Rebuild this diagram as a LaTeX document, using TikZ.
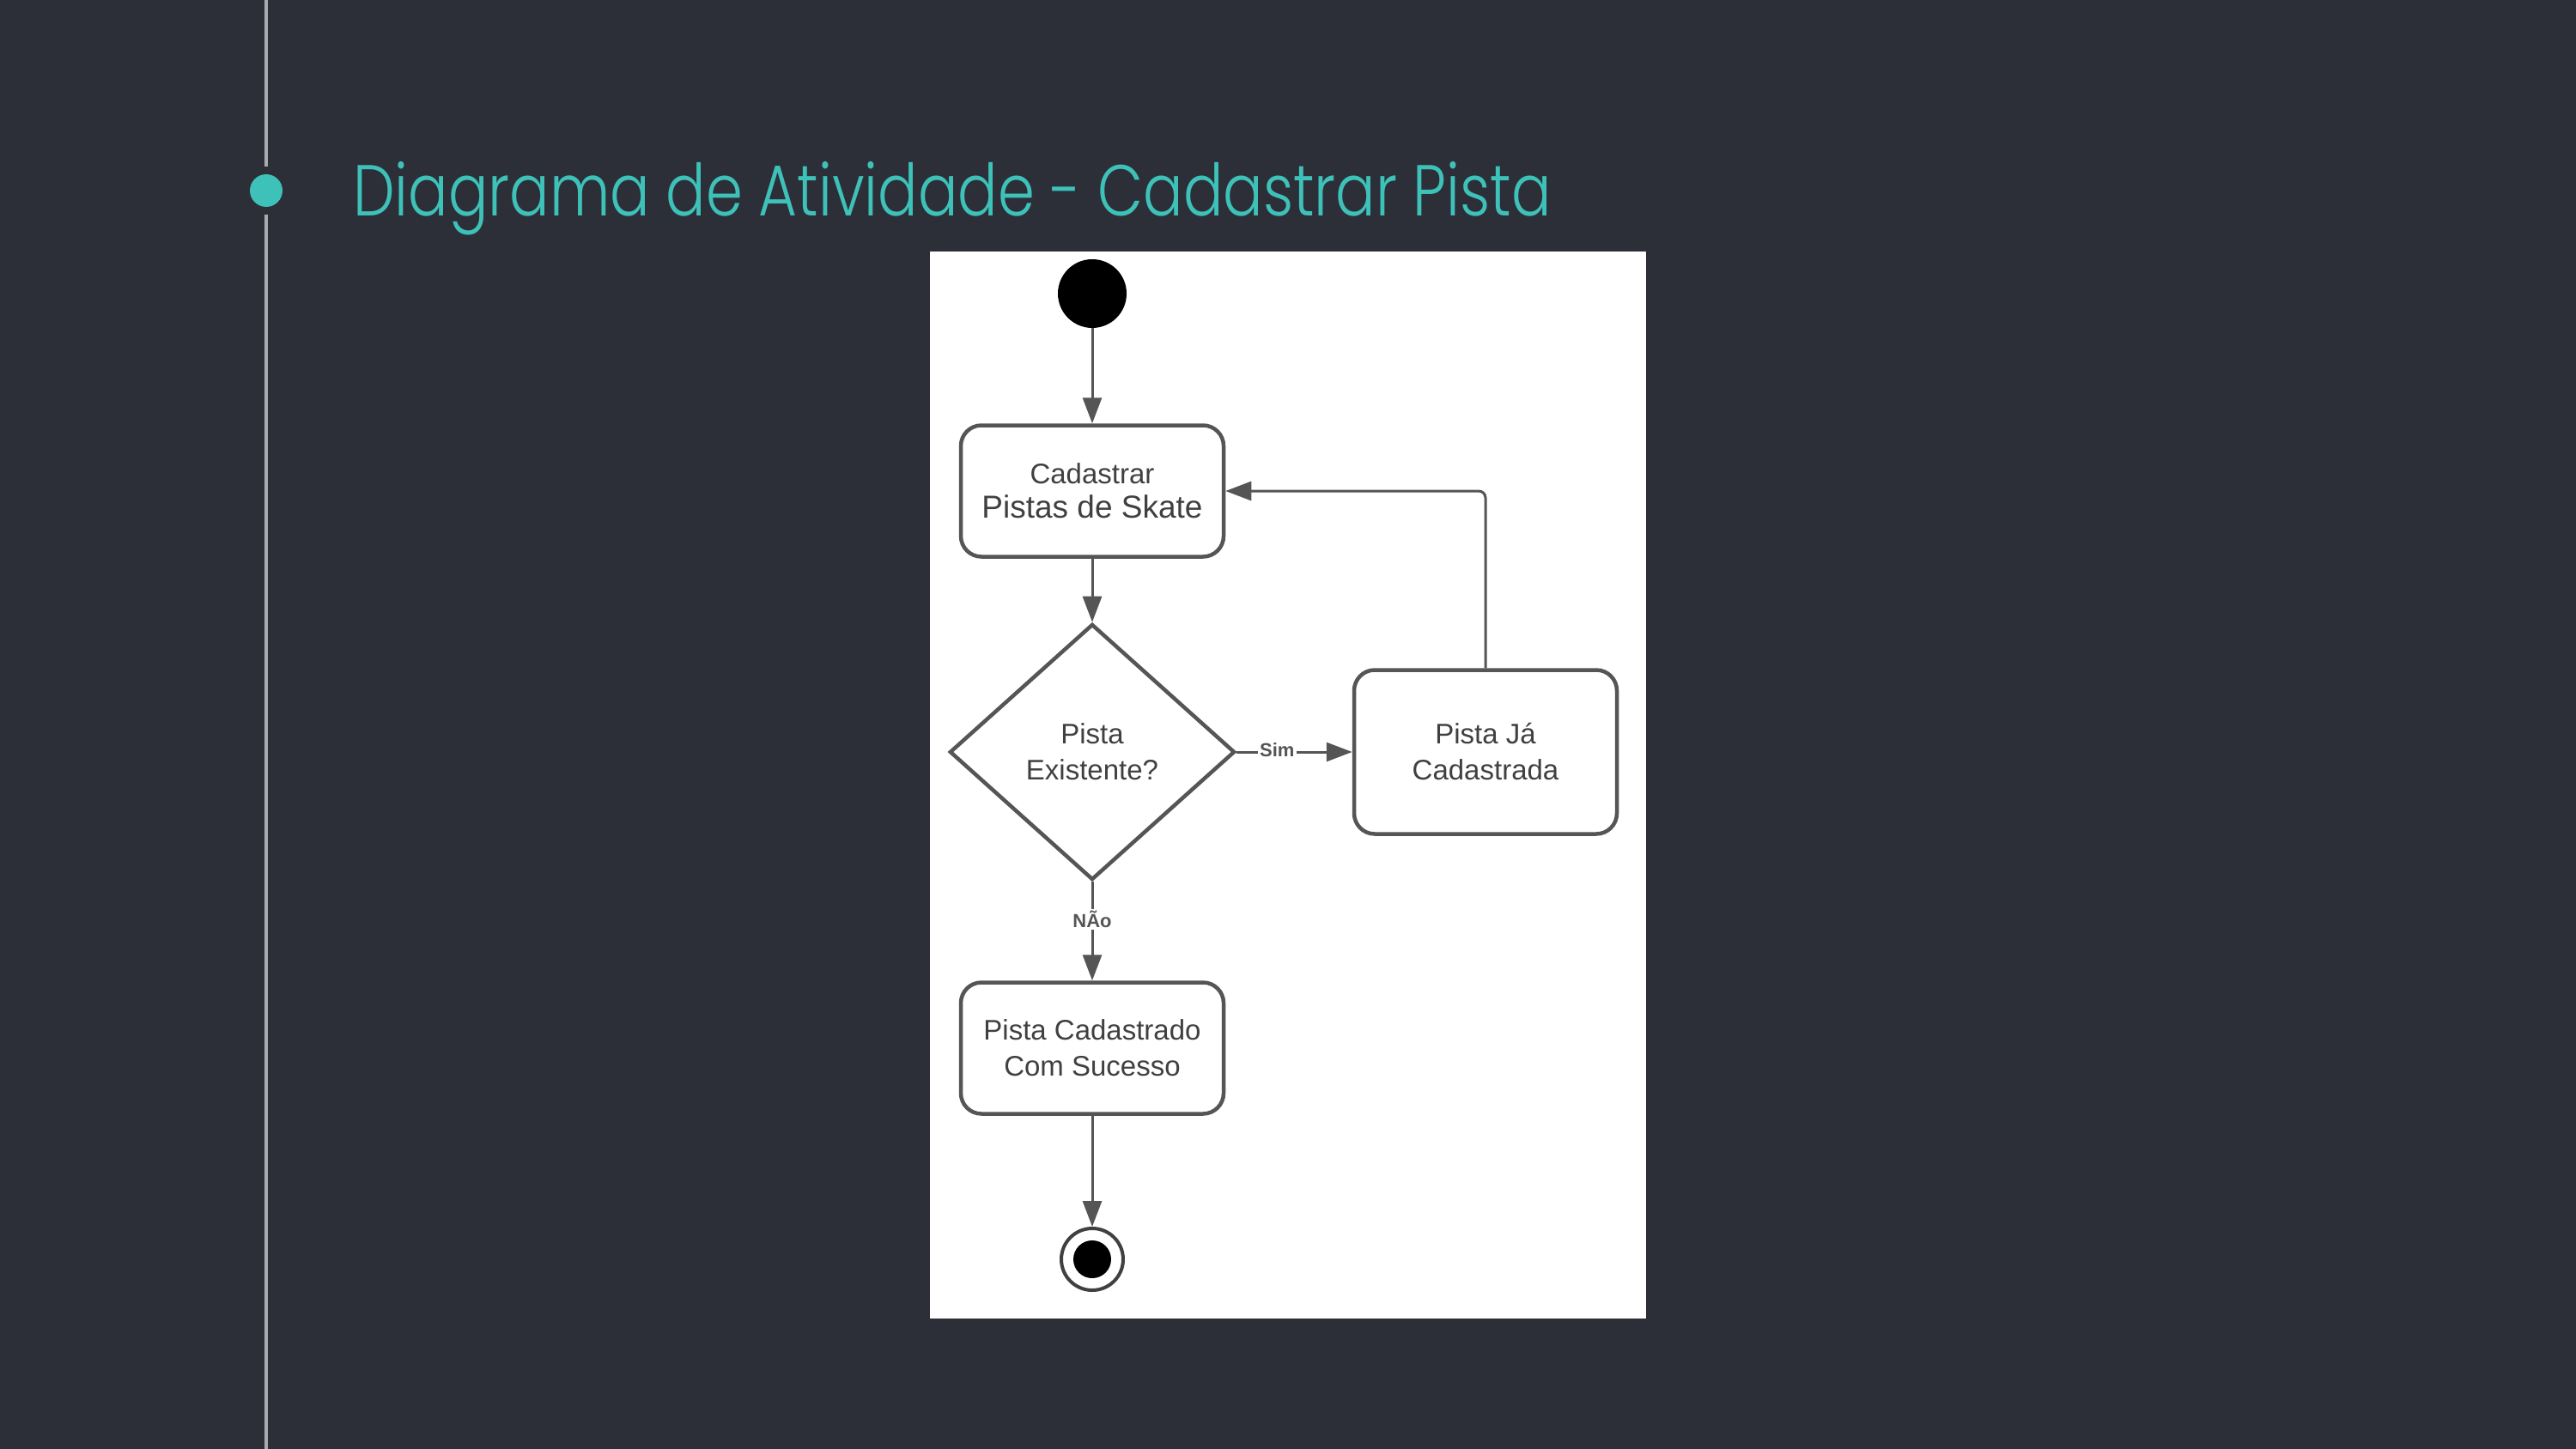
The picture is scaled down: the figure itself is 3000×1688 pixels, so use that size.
\documentclass[tikz,border=0pt]{standalone}
\usepackage{fontspec}
\setmainfont{Liberation Sans}
\newfontfamily\titlefont{Poppins Light}[FakeStretch=0.82]
\usetikzlibrary{shapes.geometric,arrows.meta}
\definecolor{bg}{HTML}{2C2F38}
\definecolor{tealc}{HTML}{3EC1B8}
\definecolor{rulec}{HTML}{A9AAB0}
\definecolor{ink}{HTML}{555555}
\definecolor{txt}{HTML}{404040}
\begin{document}
\begin{tikzpicture}[x=1pt,y=-1pt,
  actbox/.style={draw=ink, line width=4.5pt, rounded corners=24pt, fill=white,
    minimum width=306pt, minimum height=153pt, inner sep=0pt, align=center,
    font=\fontsize{33}{42}\selectfont, text=txt},
  decis/.style={draw=ink, line width=4.5pt, diamond, fill=white,
    minimum width=332pt, minimum height=298pt, inner sep=0pt, align=center,
    font=\fontsize{33}{42}\selectfont, text=txt},
  conn/.style={draw=ink, line width=3pt, -{Triangle[length=30pt,width=22pt]}},
  lbl/.style={fill=white, inner sep=2pt, text=ink, font=\bfseries\fontsize{22}{24}\selectfont}]
  % background
  \fill[bg] (0,0) rectangle (3000,1688);
  \useasboundingbox (0,0) rectangle (3000,1688);
  % timeline
  \draw[rulec, line width=4pt] (310,0) -- (310,194);
  \draw[rulec, line width=4pt] (310,250) -- (310,1688);
  \node (dot) [circle, fill=tealc, minimum size=38pt, inner sep=0pt] at (310,222) {};
  \node (title) [anchor=base west, inner sep=0pt, text=tealc, font=\titlefont\fontsize{84}{100}\selectfont] at (411,252) {Diagrama de Atividade - Cadastrar Pista};
  % panel
  \fill[white] (1083,293) rectangle (1917,1536);
  % nodes
  \node (start) [circle, fill=black, minimum size=80pt, inner sep=0pt] at (1272,342) {};
  \node (box1) [actbox] at (1272,572) {Cadastrar\\[-2pt]{\fontsize{37}{42}\selectfont Pistas de Skate}};
  \node (dec) [decis] at (1272,876) {Pista\\Existente?};
  \node (box2) [actbox, minimum height=191pt] at (1730,876) {Pista Já\\Cadastrada};
  \node (box3) [actbox] at (1272,1221) {Pista Cadastrado\\Com Sucesso};
  \node (end) [circle, draw=txt, line width=4pt, minimum size=72pt, inner sep=0pt] at (1272,1467) {};
  \fill[black] (end.center) circle (22pt);
  % connectors
  \draw[conn] (start) -- (box1);
  \draw[conn] (box1) -- (dec);
  \draw[conn] (dec) -- node[lbl, pos=0.35, yshift=2pt] {Sim} (box2);
  \draw[conn, rounded corners=8pt] (box2.north) |- (box1.east);
  \draw[conn] (dec) -- node[lbl, pos=0.38] {NÃo} (box3);
  \draw[conn] (box3) -- (end);
\end{tikzpicture}
\end{document}
